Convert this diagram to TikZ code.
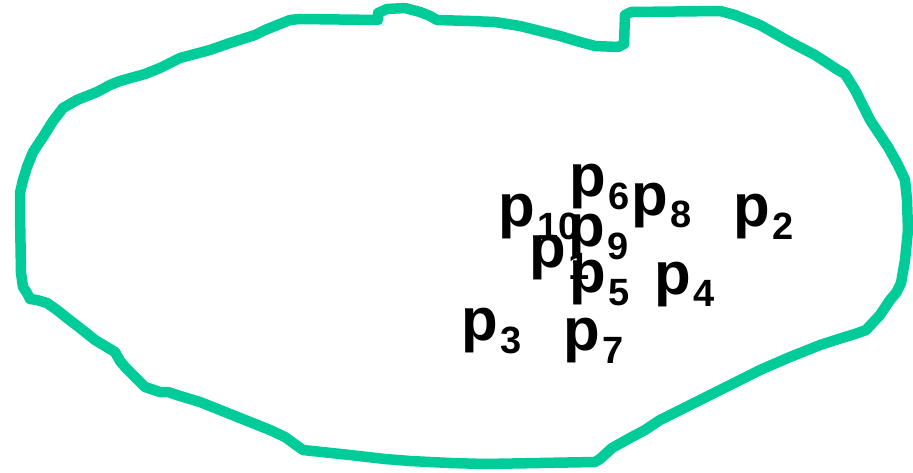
\documentclass[tikz,border=0pt]{standalone}
\usepackage{fontspec}
\setmainfont{Liberation Sans}
\definecolor{blobgreen}{RGB}{0,204,153}
\newcommand{\plab}[1]{{\bfseries\fontsize{60}{60}\selectfont p\kern3pt\raisebox{-13pt}{\fontsize{38}{38}\selectfont #1}}}
\begin{document}
\begin{tikzpicture}[x=1pt,y=-1pt,
  blob/.style={draw=blobgreen,line width=10.5pt,line join=round,line cap=round},
  lab/.style={anchor=base west,inner sep=0pt,outer sep=0pt}]
\useasboundingbox (0,0) rectangle (913,473);
\draw[blob] (378,20) -- (378,13) -- (387,9) -- (405,8) -- (420,12) -- (430,16) -- (437,20)
  -- (470,21) -- (495,22) -- (520,26) -- (560,36) -- (580,42) -- (595,46) -- (618,47)
  -- (624,44) -- (625,15) -- (631,12) -- (720,11) -- (735,15) -- (745,19) -- (760,25)
  -- (790,42) -- (815,55) -- (838,70) -- (845,74) -- (855,90) -- (870,120) -- (888,147)
  -- (898,165) -- (905,180) -- (907,200) -- (908,230) -- (905,260) -- (901,283)
  -- (896,293) -- (890,300) -- (880,315) -- (866,330) -- (855,334) -- (845,337)
  -- (820,345) -- (790,357) -- (760,370) -- (720,390) -- (690,405) -- (660,420)
  -- (645,430) -- (630,438) -- (612,448) -- (600,459) -- (595,462) -- (540,463)
  -- (485,464) -- (450,463) -- (410,461) -- (385,459) -- (350,455) -- (303,450)
  -- (296,445) -- (285,437) -- (270,430) -- (240,418) -- (200,402) -- (180,396)
  -- (168,392) -- (160,392) -- (145,387) -- (140,382) -- (132,374) -- (126,368)
  -- (120,361) -- (115,352) -- (100,343) -- (95,340) -- (80,328) -- (67,318)
  -- (57,310) -- (47,303) -- (37,300) -- (30,299) -- (27,293) -- (23,287)
  -- (21,273) -- (20,213) -- (20,193) -- (23,180) -- (27,167) -- (33,152)
  -- (43,137) -- (53,121) -- (63,108) -- (77,100) -- (97,92) -- (110,85)
  -- (120,81) -- (145,74) -- (160,68) -- (180,58) -- (210,50) -- (230,43)
  -- (255,35) -- (265,30) -- (290,20) -- (300,19) -- cycle;
\node[lab] (p10) at (498,227) {\plab{10}};
\node[lab] (p1) at (529,267) {\plab{1}};
\node[lab] (p9) at (568,247) {\plab{9}};
\node[lab] (p6) at (569,197) {\plab{6}};
\node[lab] (p8) at (631,215) {\plab{8}};
\node[lab] (p2) at (733,227) {\plab{2}};
\node[lab] (p5) at (569,292) {\plab{5}};
\node[lab] (p4) at (654,294) {\plab{4}};
\node[lab] (p3) at (461,340) {\plab{3}};
\node[lab] (p7) at (563,350) {\plab{7}};
\end{tikzpicture}
\end{document}
